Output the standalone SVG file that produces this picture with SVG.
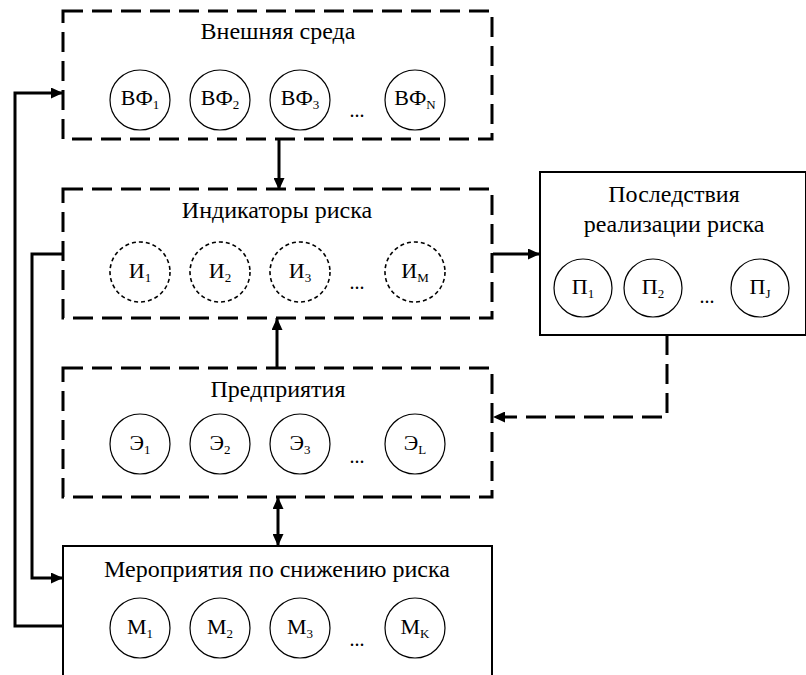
<svg xmlns="http://www.w3.org/2000/svg" width="806" height="675" viewBox="0 0 806 675" font-family="'Liberation Serif', 'DejaVu Serif', serif">
<style>
  .title { font-size: 24px; text-anchor: middle; fill: #000; }
  .lbl { font-size: 22px; text-anchor: middle; fill: #000; }
  .sub { font-size: 13px; }
  .dots { font-size: 20px; text-anchor: middle; fill: #000; }
  .dbox { fill: #fff; stroke: #000; stroke-width: 3; stroke-dasharray: 20 9; }
  .sbox { fill: #fff; stroke: #000; stroke-width: 2; }
  .c { fill: #fff; stroke: #000; stroke-width: 1.2; }
  .dc { fill: #fff; stroke: #000; stroke-width: 1.6; stroke-dasharray: 4 3; }
  .conn { fill: none; stroke: #000; stroke-width: 3; }
  .dconn { fill: none; stroke: #000; stroke-width: 3; stroke-dasharray: 20 9; }
</style>
<defs>
  <marker id="arr" viewBox="0 0 12 11" refX="12" refY="5.5" markerWidth="12" markerHeight="11" markerUnits="userSpaceOnUse" orient="auto-start-reverse">
    <path d="M0,0 L12,5.5 L0,11 Z" fill="#000"/>
  </marker>
</defs>
<rect width="806" height="675" fill="#fff"/>

<g id="connectors">
  <path class="conn" d="M63,626 H15 V93 H63" marker-end="url(#arr)"/>
  <path class="conn" d="M63,254 H32 V578 H63" marker-end="url(#arr)"/>
  <path class="conn" d="M279,139 V190" marker-end="url(#arr)"/>
  <path class="conn" d="M277,368 V318" marker-end="url(#arr)"/>
  <path class="conn" d="M493,254 H540" marker-end="url(#arr)"/>
  <path class="dconn" d="M667,335 V417 H493" marker-end="url(#arr)"/>
  <path class="conn" d="M278,497 V546" marker-start="url(#arr)" marker-end="url(#arr)"/>
</g>

<g id="external">
  <rect class="dbox" x="63" y="11" width="429" height="128"/>
  <text class="title" x="278" y="39">Внешняя среда</text>
  <circle class="c" cx="140" cy="100" r="30"/>
  <text class="lbl" x="140" y="105">ВФ<tspan class="sub" dy="4">1</tspan></text>
  <circle class="c" cx="220" cy="100" r="30"/>
  <text class="lbl" x="220" y="105">ВФ<tspan class="sub" dy="4">2</tspan></text>
  <circle class="c" cx="300" cy="100" r="30"/>
  <text class="lbl" x="300" y="105">ВФ<tspan class="sub" dy="4">3</tspan></text>
  <text class="dots" x="357" y="117">...</text>
  <circle class="c" cx="415" cy="100" r="30"/>
  <text class="lbl" x="415" y="105">ВФ<tspan class="sub" dy="4">N</tspan></text>
</g>

<g id="indicators">
  <rect class="dbox" x="63" y="189" width="429" height="129"/>
  <text class="title" x="277" y="218">Индикаторы риска</text>
  <circle class="dc" cx="140" cy="272" r="30"/>
  <text class="lbl" x="140" y="278">И<tspan class="sub" dy="4">1</tspan></text>
  <circle class="dc" cx="220" cy="272" r="30"/>
  <text class="lbl" x="220" y="278">И<tspan class="sub" dy="4">2</tspan></text>
  <circle class="dc" cx="300" cy="272" r="30"/>
  <text class="lbl" x="300" y="278">И<tspan class="sub" dy="4">3</tspan></text>
  <text class="dots" x="357" y="289">...</text>
  <circle class="dc" cx="415" cy="272" r="30"/>
  <text class="lbl" x="415" y="278">И<tspan class="sub" dy="4">M</tspan></text>
</g>

<g id="consequences">
  <rect class="sbox" x="540" y="172" width="266" height="163"/>
  <text class="title" x="674" y="202">Последствия</text>
  <text class="title" x="674" y="232">реализации риска</text>
  <circle class="c" cx="583" cy="288" r="29"/>
  <text class="lbl" x="583" y="294">П<tspan class="sub" dy="4">1</tspan></text>
  <circle class="c" cx="653" cy="288" r="29"/>
  <text class="lbl" x="653" y="294">П<tspan class="sub" dy="4">2</tspan></text>
  <text class="dots" x="707" y="303">...</text>
  <circle class="c" cx="760" cy="288" r="29"/>
  <text class="lbl" x="760" y="294">П<tspan class="sub" dy="4">J</tspan></text>
</g>

<g id="enterprises">
  <rect class="dbox" x="63" y="368" width="429" height="129"/>
  <text class="title" x="278" y="397">Предприятия</text>
  <circle class="c" cx="140" cy="444" r="30"/>
  <text class="lbl" x="140" y="450">Э<tspan class="sub" dy="4">1</tspan></text>
  <circle class="c" cx="220" cy="444" r="30"/>
  <text class="lbl" x="220" y="450">Э<tspan class="sub" dy="4">2</tspan></text>
  <circle class="c" cx="300" cy="444" r="30"/>
  <text class="lbl" x="300" y="450">Э<tspan class="sub" dy="4">3</tspan></text>
  <text class="dots" x="357" y="463">...</text>
  <circle class="c" cx="415" cy="444" r="30"/>
  <text class="lbl" x="415" y="450">Э<tspan class="sub" dy="4">L</tspan></text>
</g>

<g id="measures">
  <rect class="sbox" x="63" y="546" width="429" height="132"/>
  <text class="title" x="277" y="577">Мероприятия по снижению риска</text>
  <circle class="c" cx="140" cy="628" r="30"/>
  <text class="lbl" x="140" y="634">М<tspan class="sub" dy="4">1</tspan></text>
  <circle class="c" cx="220" cy="628" r="30"/>
  <text class="lbl" x="220" y="634">М<tspan class="sub" dy="4">2</tspan></text>
  <circle class="c" cx="300" cy="628" r="30"/>
  <text class="lbl" x="300" y="634">М<tspan class="sub" dy="4">3</tspan></text>
  <text class="dots" x="357" y="646">...</text>
  <circle class="c" cx="415" cy="628" r="30"/>
  <text class="lbl" x="415" y="634">М<tspan class="sub" dy="4">K</tspan></text>
</g>
</svg>
